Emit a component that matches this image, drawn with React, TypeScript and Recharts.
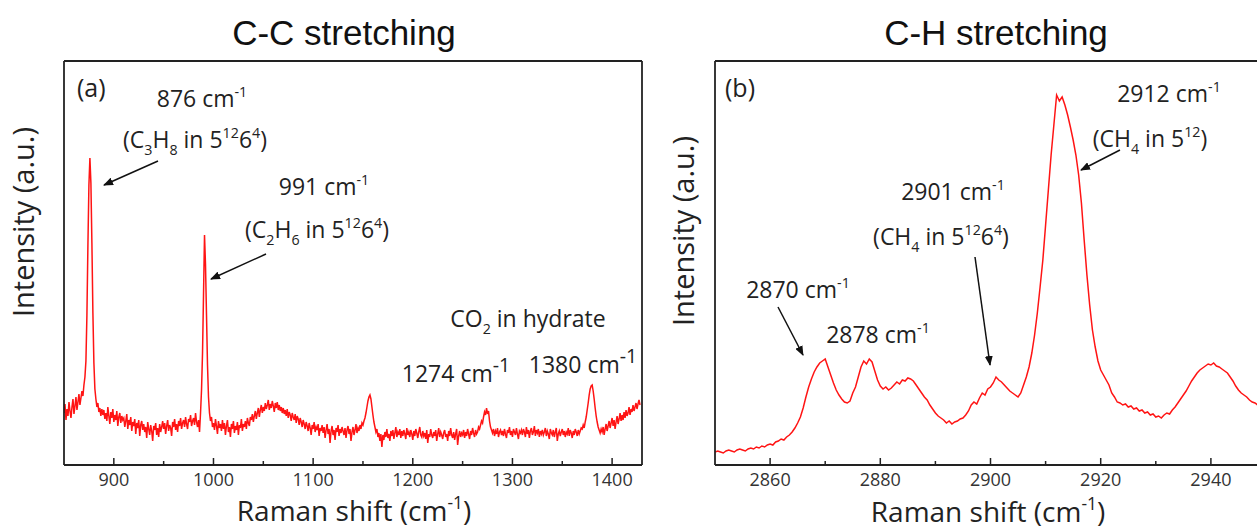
import React from 'react';
import { LineChart, Line, XAxis, YAxis } from 'recharts';

// C-C stretching region, 1 cm-1 sampling starting at 850 cm-1 (intensity in a.u.)
const ccStart = 850;
const ccStep = 1;
const ccIntensity = [
  52, 61, 45, 56, 49, 63, 54, 47, 58, 66, 51, 59, 68, 55, 63, 71, 60, 67, 74, 69,
  80, 88, 104, 150, 220, 280, 307, 282, 222, 152, 102, 76, 66, 58, 62, 53, 57, 49, 56, 50,
  55, 46, 52, 44, 58, 49, 41, 53, 47, 56, 43, 50, 45, 54, 39, 48, 52, 42, 49, 45,
  47, 38, 44, 51, 36, 45, 40, 48, 34, 43, 39, 46, 31, 42, 37, 45, 29, 40, 44, 35,
  41, 33, 38, 27, 43, 36, 30, 40, 34, 24, 39, 35, 42, 30, 37, 28, 41, 33, 38, 44,
  36, 42, 31, 39, 45, 34, 40, 37, 29, 43, 38, 46, 35, 41, 33, 44, 39, 47, 36, 42,
  45, 38, 48, 41, 36, 46, 43, 50, 39, 44, 47, 40, 52, 43, 38, 45, 33, 52, 75, 112,
  170, 230, 200, 150, 100, 68, 52, 44, 48, 38, 42, 35, 46, 39, 31, 44, 37, 41, 34, 45,
  36, 42, 30, 39, 45, 33, 38, 28, 41, 36, 44, 32, 39, 35, 43, 30, 40, 37, 46, 34,
  41, 38, 44, 36, 47, 42, 39, 48, 45, 51, 43, 49, 54, 46, 52, 57, 48, 55, 60, 52,
  58, 54, 62, 56, 60, 65, 55, 61, 57, 64, 59, 53, 62, 57, 63, 55, 60, 54, 58, 52,
  57, 51, 55, 49, 56, 47, 53, 50, 44, 52, 48, 45, 51, 42, 49, 46, 40, 47, 43, 38,
  45, 41, 36, 43, 39, 34, 42, 37, 30, 40, 36, 43, 33, 38, 35, 41, 29, 37, 34, 40,
  32, 38, 27, 35, 41, 31, 36, 22, 34, 39, 30, 35, 25, 37, 33, 40, 29, 36, 32, 38,
  34, 30, 37, 27, 35, 39, 31, 36, 24, 33, 38, 30, 35, 41, 32, 37, 34, 40, 36, 42,
  40, 44, 47, 52, 58, 64, 68, 70, 66, 58, 50, 43, 38, 33, 36, 28, 32, 24, 31, 18,
  30, 25, 33, 28, 36, 27, 31, 24, 34, 29, 35, 26, 32, 38, 28, 33, 30, 36, 27, 34,
  29, 35, 31, 26, 37, 30, 33, 28, 35, 31, 25, 34, 29, 36, 32, 27, 33, 38, 30, 28,
  34, 29, 32, 26, 35, 22, 31, 28, 36, 30, 27, 33, 29, 35, 24, 31, 37, 28, 33, 30,
  26, 32, 35, 28, 31, 24, 34, 29, 37, 30, 27, 33, 25, 31, 36, 20, 29, 34, 28, 32,
  30, 35, 27, 33, 29, 36, 31, 26, 34, 30, 37, 32, 28, 35, 31, 33, 38, 36, 40, 44,
  42, 48, 53, 50, 57, 51, 54, 44, 38, 35, 32, 36, 29, 34, 31, 37, 28, 33, 35, 30,
  34, 29, 36, 31, 27, 35, 32, 38, 30, 34, 28, 36, 33, 30, 37, 31, 26, 34, 32, 35,
  30, 36, 33, 28, 38, 31, 35, 27, 34, 37, 30, 33, 39, 29, 35, 32, 36, 28, 34, 31,
  35, 30, 33, 37, 29, 34, 31, 26, 36, 32, 30, 35, 28, 33, 37, 24, 31, 34, 29, 33,
  36, 30, 34, 28, 33, 31, 37, 29, 35, 32, 27, 34, 30, 36, 33, 29, 35, 31, 34, 37,
  36, 40, 37, 43, 48, 55, 62, 70, 76, 79, 80, 74, 66, 57, 49, 43, 38, 35, 32, 36,
  33, 38, 30, 36, 41, 34, 39, 44, 37, 42, 47, 39, 45, 36, 43, 49, 41, 46, 52, 44,
  50, 45, 53, 47, 55, 49, 52, 58, 50, 56, 53, 60, 54, 58, 62, 56, 61, 65, 60,
];

// C-H stretching region, 0.5 cm-1 sampling starting at 2850 cm-1
const chStart = 2850;
const chStep = 0.5;
const chIntensity = [
  13, 14, 13, 12, 14, 15, 14, 13, 15, 16,
  15, 14, 16, 17, 16, 18, 17, 19, 18, 20,
  21, 20, 23, 24, 26, 25, 28, 30, 33, 37,
  42, 48, 57, 68, 78, 86, 93, 98, 102, 104,
  106, 98, 90, 82, 75, 70, 66, 63, 62, 64,
  72, 78, 88, 98, 104, 101, 106, 103, 94, 85,
  79, 76, 78, 75, 77, 80, 83, 81, 85, 84,
  87, 86, 84, 80, 76, 72, 68, 65, 60, 56,
  52, 49, 47, 45, 42, 44, 41, 43, 44, 46,
  47, 50, 54, 60, 63, 61, 67, 72, 70, 76,
  78, 82, 88, 85, 83, 80, 77, 74, 72, 70,
  68, 72, 80, 88, 98, 112, 130, 152, 178, 205,
  240, 275, 310, 340, 370, 364, 368, 360, 350, 338,
  325, 310, 290, 262, 225, 190, 160, 135, 118, 104,
  95, 90, 85, 80, 72, 68, 63, 62, 60, 61,
  58, 59, 56, 57, 54, 55, 52, 53, 50, 51,
  48, 49, 47, 50, 52, 51, 55, 58, 62, 66,
  70, 74, 79, 84, 88, 92, 95, 97, 99, 101,
  100, 102, 99, 98, 96, 94, 92, 88, 84, 79,
  75, 72, 70, 68, 65, 63, 62, 60, 59, 58,
  57,
];

const ccTicks = [900, 950, 1000, 1050, 1100, 1150, 1200, 1250, 1300, 1350, 1400];
const chTicks = [2860, 2870, 2880, 2890, 2900, 2910, 2920, 2930, 2940];

const ccData = ccIntensity.map((v, i) => ({ shift: ccStart + i * ccStep, v }));
const chData = chIntensity.map((v, i) => ({ shift: chStart + i * chStep, v }));

const RED = '#ff1414';
const INK = '#222';
const LABEL_FONT = '"Open Sans", sans-serif';

type Seg = [string, 'n' | 'sub' | 'sup'];

// text with sub/superscripts laid out via relative dy shifts
const Rich = ({ x, y, segs, size = 23, supScale = 0.62, anchor = 'middle' }: {
  x: number; y: number; segs: Seg[]; size?: number; supScale?: number; anchor?: string;
}) => {
  let cur = 0;
  return (
    <text x={x} y={y} textAnchor={anchor as any} fontSize={size} fontFamily={LABEL_FONT} fill={INK}>
      {segs.map(([t, k], i) => {
        const target = k === 'sub' ? size * 0.3 : k === 'sup' ? -size * 0.42 : 0;
        const dy = target - cur;
        cur = target;
        return (
          <tspan key={i} dy={dy} fontSize={k === 'n' ? size : size * supScale}>{t}</tspan>
        );
      })}
    </text>
  );
};

const makeTick = (isMajor: (v: number) => boolean) => (props: any) => {
  const { x, y, payload } = props;
  const major = isMajor(payload.value);
  return (
    <g>
      <line x1={x} x2={x} y1={y} y2={y - (major ? 7 : 4)} stroke={INK} strokeWidth={1.5} />
      {major && (
        <text x={x} y={y + 21} textAnchor="middle" fontSize={18} fontFamily={LABEL_FONT} fill="#333">
          {payload.value}
        </text>
      )}
    </g>
  );
};

const ccTick = makeTick((v) => v % 100 === 0);
const chTick = makeTick((v) => v % 20 === 0);

const frame = { stroke: INK, strokeWidth: 1.8 };

const Panel = ({ data, domain, ticks, tick, width, margin }: any) => (
  <LineChart width={width} height={531} data={data} margin={margin}>
    <XAxis
      dataKey="shift"
      type="number"
      domain={domain}
      ticks={ticks}
      interval={0}
      height={1}
      tickSize={0}
      tickMargin={0}
      tickLine={false}
      tick={tick}
      axisLine={frame}
      allowDataOverflow
    />
    <XAxis
      xAxisId="top"
      orientation="top"
      dataKey="shift"
      type="number"
      domain={domain}
      height={1}
      tick={false}
      tickLine={false}
      axisLine={frame}
      allowDataOverflow
    />
    <YAxis type="number" domain={[0, 404]} width={1} tick={false} tickLine={false}
      axisLine={frame} allowDataOverflow />
    <YAxis yAxisId="right" orientation="right" type="number" domain={[0, 404]} width={1}
      tick={false} tickLine={false} axisLine={frame} allowDataOverflow />
    <Line
      type="linear"
      dataKey="v"
      stroke={RED}
      strokeWidth={1.5}
      dot={false}
      isAnimationActive={false}
    />
  </LineChart>
);

const Arrow = ({ x1, y1, x2, y2 }: { x1: number; y1: number; x2: number; y2: number }) => (
  <line x1={x1} y1={y1} x2={x2} y2={y2} stroke="#111" strokeWidth={1.5} markerEnd="url(#head)" />
);

const cm: Seg[] = [[' cm', 'n'], ['-1', 'sup']];

export default function App() {
  return (
    <div style={{ position: 'fixed', left: 0, top: 0, width: 1257, height: 531, overflow: 'hidden', background: '#fff' }}>
      <div style={{ position: 'absolute', left: 0, top: 0 }}>
        <Panel data={ccData} domain={[850, 1430]} ticks={ccTicks} tick={ccTick} width={660}
          margin={{ top: 60, left: 63, right: 17, bottom: 65 }} />
      </div>
      <div style={{ position: 'absolute', left: 650, top: 0 }}>
        <Panel data={chData} domain={[2850, 2950]} ticks={chTicks} tick={chTick} width={620}
          margin={{ top: 60, left: 64, right: 3, bottom: 65 }} />
      </div>
      <svg width={1257} height={531} style={{ position: 'absolute', left: 0, top: 0, pointerEvents: 'none' }}>
        <defs>
          <marker id="head" viewBox="0 0 10 8" refX="9" refY="4" markerWidth="10" markerHeight="8"
            markerUnits="userSpaceOnUse" orient="auto">
            <path d="M0,0 L10,4 L0,8 z" fill="#111" />
          </marker>
        </defs>

        <text x={344} y={45} textAnchor="middle" fontSize={35} fontFamily='"Liberation Sans", Arial, sans-serif' fill="#111">C-C stretching</text>
        <text x={996} y={45} textAnchor="middle" fontSize={35} fontFamily='"Liberation Sans", Arial, sans-serif' fill="#111">C-H stretching</text>

        <text transform="translate(34,222) rotate(-90)" textAnchor="middle" fontSize={29} fontFamily={LABEL_FONT} fill={INK}>Intensity (a.u.)</text>
        <text transform="translate(694,231) rotate(-90)" textAnchor="middle" fontSize={29} fontFamily={LABEL_FONT} fill={INK}>Intensity (a.u.)</text>

        <Rich x={354} y={521} size={28} segs={[['Raman shift (cm', 'n'], ['-1', 'sup'], [')', 'n']]} />
        <Rich x={988} y={522} size={28} segs={[['Raman shift (cm', 'n'], ['-1', 'sup'], [')', 'n']]} />

        {/* panel (a) annotations */}
        <Rich x={77} y={97} size={25} anchor="start" segs={[['(a)', 'n']]} />
        <Rich x={202} y={107} segs={[['876', 'n'], ...cm]} />
        <Rich x={195} y={148} segs={[['(C', 'n'], ['3', 'sub'], ['H', 'n'], ['8', 'sub'], [' in 5', 'n'], ['12', 'sup'], ['6', 'n'], ['4', 'sup'], [')', 'n']]} />
        <Arrow x1={158} y1={161} x2={104} y2={185} />
        <Rich x={324} y={195} segs={[['991', 'n'], ...cm]} />
        <Rich x={317} y={238} segs={[['(C', 'n'], ['2', 'sub'], ['H', 'n'], ['6', 'sub'], [' in 5', 'n'], ['12', 'sup'], ['6', 'n'], ['4', 'sup'], [')', 'n']]} />
        <Arrow x1={266} y1={254} x2={211} y2={279} />
        <Rich x={528} y={327} segs={[['CO', 'n'], ['2', 'sub'], [' in hydrate', 'n']]} />
        <Rich x={456} y={382} supScale={0.85} segs={[['1274', 'n'], ...cm]} />
        <Rich x={583} y={373} supScale={0.85} segs={[['1380', 'n'], ...cm]} />

        {/* panel (b) annotations */}
        <Rich x={725} y={97} size={25} anchor="start" segs={[['(b)', 'n']]} />
        <Rich x={1169} y={102} segs={[['2912', 'n'], ...cm]} />
        <Rich x={1150} y={147} segs={[['(CH', 'n'], ['4', 'sub'], [' in 5', 'n'], ['12', 'sup'], [')', 'n']]} />
        <Arrow x1={1120} y1={150} x2={1081} y2={170} />
        <Rich x={953} y={200} segs={[['2901', 'n'], ...cm]} />
        <Rich x={941} y={245} segs={[['(CH', 'n'], ['4', 'sub'], [' in 5', 'n'], ['12', 'sup'], ['6', 'n'], ['4', 'sup'], [')', 'n']]} />
        <Arrow x1={975} y1={257} x2={990} y2={365} />
        <Rich x={798} y={298} segs={[['2870', 'n'], ...cm]} />
        <Arrow x1={778} y1={307} x2={803} y2={355} />
        <Rich x={878} y={343} segs={[['2878', 'n'], ...cm]} />
      </svg>
    </div>
  );
}
